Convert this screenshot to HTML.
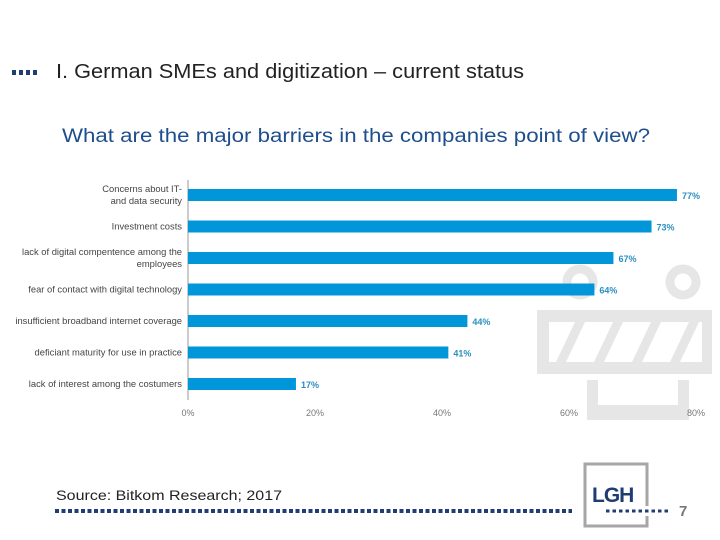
<!DOCTYPE html>
<html><head><meta charset="utf-8"><style>
body{margin:0;width:720px;height:540px;background:#fff;overflow:hidden;font-family:"Liberation Sans",sans-serif;position:relative}
.abs{position:absolute}
</style></head><body>
<svg class="abs" style="left:0;top:0" width="720" height="540">
  <g fill="#1f3c73">
    <rect x="12" y="70" width="4" height="5"/><rect x="19" y="70" width="4" height="5"/><rect x="26" y="70" width="4" height="5"/><rect x="33" y="70" width="4" height="5"/>
  </g>
  <text x="56" y="78" font-size="20" fill="#222" textLength="468" lengthAdjust="spacingAndGlyphs">I. German SMEs and digitization – current status</text>
  <text x="62" y="142" font-size="19" fill="#1f4e8c" textLength="588" lengthAdjust="spacingAndGlyphs">What are the major barriers in the companies point of view?</text>
  <g fill="#e6e6e6">
    <circle cx="580" cy="282" r="13" fill="none" stroke="#e6e6e6" stroke-width="9"/>
    <circle cx="683" cy="282" r="13" fill="none" stroke="#e6e6e6" stroke-width="9"/>
    <path d="M537 310H712V374H537Z M549 322V362H556L575 322Z M585 322L566 362H594L613 322Z M623 322L604 362H632L651 322Z M661 322L642 362H670L689 322Z M699 322L680 362H702V322Z" fill-rule="evenodd"/>
    <path d="M587 380h11v25h80v-25h11v40h-102z"/>
  </g>
  <g id="chart"></g>
  <text x="56" y="500" font-size="14" fill="#222" textLength="226" lengthAdjust="spacingAndGlyphs">Source: Bitkom Research; 2017</text>
  <line x1="55" y1="511" x2="572" y2="511" stroke="#1f3c73" stroke-width="4" stroke-dasharray="4,2.5"/>
  <rect x="585" y="464" width="62" height="62" fill="none" stroke="#a6a6a6" stroke-width="3"/>
  <text x="592" y="502" font-size="21" font-weight="bold" fill="#1f3c73" letter-spacing="-1">LGH</text>
  <rect x="595" y="506" width="75" height="10" fill="#fff"/>
  <line x1="606" y1="511" x2="668" y2="511" stroke="#1f3c73" stroke-width="3" stroke-dasharray="3.5,3"/>
  <text x="679" y="516" font-size="15" font-weight="bold" fill="#777">7</text>
</svg>
<script>
const categories=[["Concerns about IT-","and data security"],["Investment costs"],["lack of digital compentence among the","employees"],["fear of contact with digital technology"],["insufficient broadband internet coverage"],["deficiant maturity for use in practice"],["lack of interest among the costumers"]];
const values=[77,73,67,64,44,41,17];
const ticks=[0,20,40,60,80];
const NS="http://www.w3.org/2000/svg";
const g=document.getElementById('chart');
const x0=188,pxPer=6.35,y0=195,step=31.5,bh=12;
const xs=v=>x0+v*pxPer, ys=i=>y0+i*step;
function mk(t,a){const e=document.createElementNS(NS,t);for(const k in a)e.setAttribute(k,a[k]);g.appendChild(e);return e;}
const ax=mk('line',{x1:x0,y1:180,x2:x0,y2:400,stroke:'#999','stroke-width':1});


values.forEach((v,i)=>{
  const r=mk('rect',{x:x0,y:ys(i)-bh/2,width:xs(v)-x0,height:bh,fill:'#0096d9'});
  
  
  const t=mk('text',{x:xs(v)+5,y:ys(i)+4,'font-size':9,'font-weight':'bold',fill:'#2a8fc0'});
  t.textContent=v+'%';
  
  
  const lines=categories[i];
  lines.forEach((ln,j)=>{
    const c=mk('text',{x:182,y:ys(i)+3+(j-(lines.length-1)/2)*12,'font-size':9.4,fill:'#444','text-anchor':'end'});
    c.textContent=ln;
    
    
  });
});
ticks.forEach(tv=>{
  const t=mk('text',{x:xs(tv),y:416,'font-size':9,fill:'#777','text-anchor':'middle'});
  t.textContent=tv+'%';
  
  
});
</script>
</body></html>
